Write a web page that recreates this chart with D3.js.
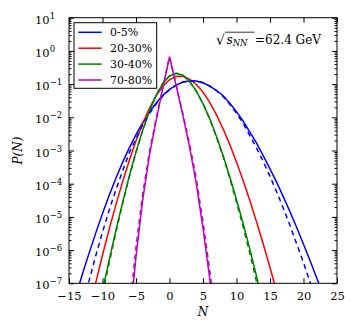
<!DOCTYPE html>
<html>
<head>
<meta charset="utf-8">
<script src="https://cdn.jsdelivr.net/npm/d3@7/dist/d3.min.js"></script>
<style>
body { margin: 0; background: #fff; }
text { font-family: "DejaVu Serif", serif; fill: #000; }
</style>
</head>
<body>
<svg id="chart" width="354" height="327"></svg>
<script>
// ---- data ----
var centralities = ["0-5%", "20-30%", "30-40%", "70-80%"];
var colors = ["#0000ff", "#ff0000", "#008000", "#bf00bf"];

var nBlue = [-15,-14,-13,-12,-11,-10,-9,-8,-7,-6,-5,-4,-3,-2,-1,0,1,2,3,4,5,6,7,8,9,10,11,12,13,14,15,16,17,18,19,20,21,22,23,24];
var pBlue = [8.5e-9,4.1e-8,1.9e-7,8.1e-7,3.3e-6,1.26e-5,4.5e-5,1.45e-4,4.4e-4,1.2e-3,3.0e-3,6.9e-3,0.0145,0.0269,0.0457,0.0692,0.0933,0.115,0.124,0.123,0.110,0.0871,0.0646,0.0447,0.0263,0.0148,7.6e-3,3.6e-3,1.66e-3,6.9e-4,2.8e-4,1.1e-4,4.0e-5,1.4e-5,4.7e-6,1.5e-6,4.7e-7,1.4e-7,4.1e-8,1.1e-8];
var nBlueDash = [-14,-13,-12,-11,-10,-9,-8,-7,-6,-5,-4,-3,-2,-1,0,1,2,3,4,5,6,7,8,9,10,11,12,13,14,15,16,17,18,19,20,21,22];
var pBlueDash = [2.8e-9,1.9e-8,1.2e-7,6.9e-7,3.5e-6,1.6e-5,6.6e-5,2.4e-4,8.5e-4,2.3e-3,5.9e-3,0.0129,0.0251,0.0437,0.0676,0.0933,0.115,0.124,0.123,0.110,0.0871,0.0631,0.0427,0.0245,0.0132,6.5e-3,2.8e-3,1.17e-3,4.6e-4,1.66e-4,5.6e-5,1.8e-5,5.4e-6,1.5e-6,4.2e-7,1.05e-7,2.5e-8];

var nRed = [-12,-11,-10,-9,-8,-7,-6,-5,-4,-3,-2,-1,0,1,2,3,4,5,6,7,8,9,10,11,12,13,14,15,16,17];
var pRed = [1.5e-8,1.07e-7,7.1e-7,4.3e-6,2.3e-5,1.15e-4,5.0e-4,1.95e-3,6.5e-3,0.0186,0.0442,0.0861,0.135,0.170,0.172,0.141,0.0977,0.0575,0.0282,0.0120,4.5e-3,1.5e-3,4.5e-4,1.23e-4,3.05e-5,7.0e-6,1.5e-6,3.0e-7,5.5e-8,9.5e-9];

var nGreen = [-11,-10,-9,-8,-7,-6,-5,-4,-3,-2,-1,0,1,2,3,4,5,6,7,8,9,10,11,12,13,14];
var pGreen = [6.5e-9,6.0e-8,5.1e-7,4.0e-6,2.75e-5,1.7e-4,9.1e-4,4.1e-3,0.0155,0.0457,0.105,0.176,0.211,0.185,0.120,0.0617,0.0257,9.1e-3,2.7e-3,7.1e-4,1.6e-4,3.3e-5,6.2e-6,1.05e-6,1.6e-7,2.2e-8];
var pGreenDash = [4.4e-9,4.5e-8,4.1e-7,3.4e-6,2.45e-5,1.6e-4,8.7e-4,4.0e-3,0.0155,0.0457,0.105,0.176,0.211,0.185,0.120,0.0617,0.0257,8.9e-3,2.6e-3,6.6e-4,1.45e-4,2.8e-5,4.9e-6,7.8e-7,1.1e-7,1.35e-8];

var nMag = [-6,-5,-4,-3,-2,-1,0,1,2,3,4,5,6,7];
var pMag = [5.0e-9,6.3e-7,3.2e-5,7.1e-4,7.9e-3,0.076,0.67,0.089,0.0112,1.26e-3,1.0e-4,4.5e-6,1.4e-7,3.2e-9];
var pMagDash = [1.26e-8,1.26e-6,5.0e-5,8.9e-4,8.9e-3,0.079,0.67,0.093,0.0126,1.58e-3,1.41e-4,7.1e-6,2.5e-7,6.3e-9];

var xTicks = [-15,-10,-5,0,5,10,15,20,25];
var yExps = [1,0,-1,-2,-3,-4,-5,-6,-7];

// ---- layout ----
var svg = d3.select("#chart");
var pL = 69, pR = 337, pT = 17.7, pB = 283.3;

var x = d3.scaleLinear().domain([-15, 25]).range([pL, pR]);
var y = d3.scaleLog().domain([1e-7, 10]).range([pB, pT]);

svg.append("defs").append("clipPath").attr("id", "plotclip")
  .append("rect").attr("x", pL).attr("y", pT)
  .attr("width", pR - pL).attr("height", pB - pT);

function zip(ns, ps) { return ns.map(function(n, i){ return [n, ps[i]]; }); }

var line = d3.line().x(d => x(d[0])).y(d => y(d[1]));

var curves = [
  {data: zip(nBlue, pBlue), c: 0, dash: false},
  {data: zip(nRed, pRed), c: 1, dash: false},
  {data: zip(nGreen, pGreen), c: 2, dash: false},
  {data: zip(nMag, pMag), c: 3, dash: false},
  {data: zip(nBlueDash, pBlueDash), c: 0, dash: true},
  {data: zip(nGreen, pGreenDash), c: 2, dash: true},
  {data: zip(nMag, pMagDash), c: 3, dash: true}
];

var plot = svg.append("g").attr("clip-path", "url(#plotclip)");
plot.selectAll("path.curve").data(curves).enter().append("path")
  .attr("class", "curve")
  .attr("d", d => line(d.data))
  .attr("fill", "none")
  .attr("stroke", d => colors[d.c])
  .attr("stroke-width", 1.5)
  .attr("stroke-dasharray", d => d.dash ? "5,4" : null);

// ---- axes (ticks inside, on all four sides) ----
var minor = [];
for (var e = -7; e < 1; e++) for (var k = 2; k < 10; k++) minor.push(k * Math.pow(10, e));
var major = yExps.map(p => Math.pow(10, p));

function noDomain(g) { g.select(".domain").remove(); g.selectAll("line").attr("stroke", "#000"); }

svg.append("g").attr("transform", "translate(0," + pB + ")")
  .call(d3.axisBottom(x).tickValues(xTicks).tickSize(-5).tickPadding(9)
    .tickFormat(d => d < 0 ? "\u2212" + Math.abs(d) : d))
  .call(noDomain)
  .selectAll("text").attr("font-size", 11.5).attr("font-family", "DejaVu Serif");

svg.append("g").attr("transform", "translate(0," + pT + ")")
  .call(d3.axisTop(x).tickValues(xTicks).tickSize(-5).tickFormat(""))
  .call(noDomain);

[[d3.axisLeft, pL], [d3.axisRight, pR]].forEach(function(a) {
  svg.append("g").attr("transform", "translate(" + a[1] + ",0)")
    .call(a[0](y).tickValues(major).tickSize(-5).tickFormat(""))
    .call(noDomain);
  svg.append("g").attr("transform", "translate(" + a[1] + ",0)")
    .call(a[0](y).tickValues(minor).tickSize(-2.5).tickFormat(""))
    .call(noDomain);
});

// y tick labels 10^p
var yl = svg.append("g").selectAll("text").data(yExps).enter().append("text")
  .attr("x", 35).attr("y", d => y(Math.pow(10, d)) + 6)
  .attr("font-size", 11.5);
yl.append("tspan").text("10");
yl.append("tspan").attr("dy", -5).attr("font-size", 8.5)
  .text(d => d < 0 ? "\u2212" + Math.abs(d) : d);

// frame
svg.append("rect").attr("x", pL).attr("y", pT)
  .attr("width", pR - pL).attr("height", pB - pT)
  .attr("fill", "none").attr("stroke", "#000").attr("stroke-width", 1);

// axis titles
svg.append("text").attr("x", (pL + pR) / 2).attr("y", 316)
  .attr("text-anchor", "middle").attr("font-size", 12).attr("font-style", "italic").text("N");
svg.append("text").attr("transform", "translate(22," + ((pT + pB) / 2) + ") rotate(-90)")
  .attr("text-anchor", "middle").attr("font-size", 12).attr("font-style", "italic").text("P(N)");

// ---- legend ----
var leg = svg.append("g");
leg.append("rect").attr("x", 74).attr("y", 22.7).attr("width", 82.7).attr("height", 65.6)
  .attr("fill", "#fff").attr("stroke", "#000").attr("stroke-width", 1);
var items = leg.selectAll("g.item").data(centralities).enter().append("g")
  .attr("class", "item")
  .attr("transform", (d, i) => "translate(0," + (32.3 + i * 15.9) + ")");
items.append("line").attr("x1", 78.3).attr("x2", 101.7)
  .attr("stroke", (d, i) => colors[i]).attr("stroke-width", 1.5);
items.append("text").attr("x", 110).attr("y", 4).attr("font-size", 11).text(d => d);

// ---- energy annotation ----
var ann = svg.append("g");
ann.append("text").attr("x", 216).attr("y", 45).attr("font-size", 14).text("\u221a");
ann.append("line").attr("x1", 225).attr("x2", 254.5).attr("y1", 32.2).attr("y2", 32.2)
  .attr("stroke", "#000").attr("stroke-width", 0.8);
var s = ann.append("text").attr("x", 226.5).attr("y", 43.5).attr("font-size", 12).attr("font-style", "italic");
s.append("tspan").text("s");
s.append("tspan").attr("dy", 2.5).attr("font-size", 8.5).text("NN");
ann.append("text").attr("x", 255).attr("y", 44).attr("font-size", 12).text("=62.4 GeV");
</script>
</body>
</html>
